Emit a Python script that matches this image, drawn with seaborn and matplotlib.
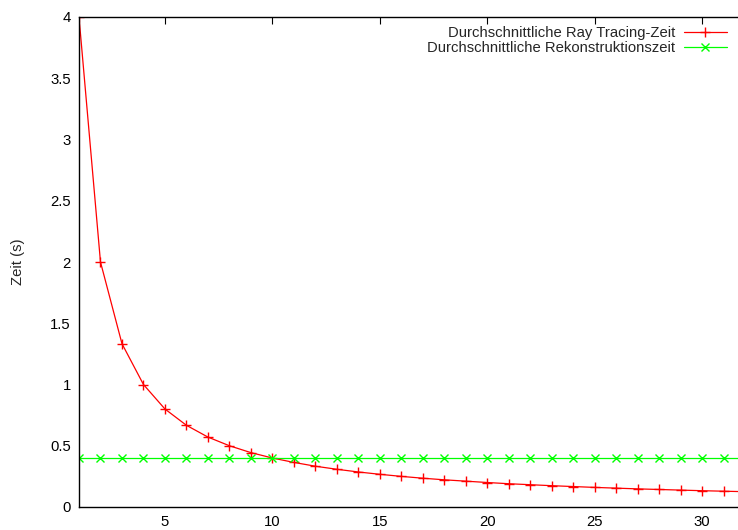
import numpy as np
import pandas as pd
import matplotlib
matplotlib.use("Agg")
import matplotlib.pyplot as plt
import seaborn as sns

# Anzahl (x) und gemessene Zeiten in Sekunden
anzahl = list(range(1, 33))
ray_tracing_zeit = [4.0, 2.0, 1.333, 1.0, 0.8, 0.667, 0.571, 0.5, 0.444, 0.4,
                    0.364, 0.333, 0.308, 0.286, 0.267, 0.25, 0.235, 0.222, 0.211, 0.2,
                    0.19, 0.182, 0.174, 0.167, 0.16, 0.154, 0.148, 0.143, 0.138, 0.133,
                    0.129, 0.125]
rekonstruktion_zeit = [0.4] * 32

x_ticks = [5, 10, 15, 20, 25, 30]
y_ticks = [0, 0.5, 1, 1.5, 2, 2.5, 3, 3.5, 4]

df = pd.DataFrame({
    "x": anzahl,
    "ray": ray_tracing_zeit,
    "rek": rekonstruktion_zeit,
})

sns.set_style("white")
plt.rcParams['font.family'] = ['Liberation Sans', 'DejaVu Sans']
plt.rcParams['font.size'] = 10.7

fig = plt.figure(figsize=(7.38, 5.30), dpi=100)
ax = fig.add_axes([79 / 738, 23 / 530, (745 - 79) / 738, (507 - 17) / 530])

sns.lineplot(data=df, x="x", y="ray", ax=ax, color="#ff0000", linewidth=0.9,
             marker="+", markersize=7, markeredgewidth=1.0,
             markeredgecolor="#ff0000",
             label="Durchschnittliche Ray Tracing-Zeit")
sns.lineplot(data=df, x="x", y="rek", ax=ax, color="#00ff00", linewidth=0.9,
             marker="x", markersize=5.5, markeredgewidth=1.0,
             markeredgecolor="#00ff00",
             label="Durchschnittliche Rekonstruktionszeit")

ax.set_xlim(1, 32)
ax.set_ylim(0, 4)
ax.set_xticks(x_ticks)
ax.set_yticks(y_ticks)
ax.set_yticklabels([f"{v:g}" for v in y_ticks])
ax.set_xlabel("")
ax.set_ylabel("Zeit (s)", labelpad=18)
ax.tick_params(direction="in", length=5, width=0.8, top=True, right=True,
               labelsize=10.7, colors="black", pad=6)
for s in ax.spines.values():
    s.set_color("black")
    s.set_linewidth(1.0)

leg = ax.legend(loc="upper right", bbox_to_anchor=(738 / 745 - 0.002, 1.003),
                frameon=False, markerfirst=False, handlelength=2.9,
                handletextpad=0.6, labelspacing=0.07, borderaxespad=0.3)
for t in leg.get_texts():
    t.set_ha("right")

fig.savefig("out.png", dpi=100)
